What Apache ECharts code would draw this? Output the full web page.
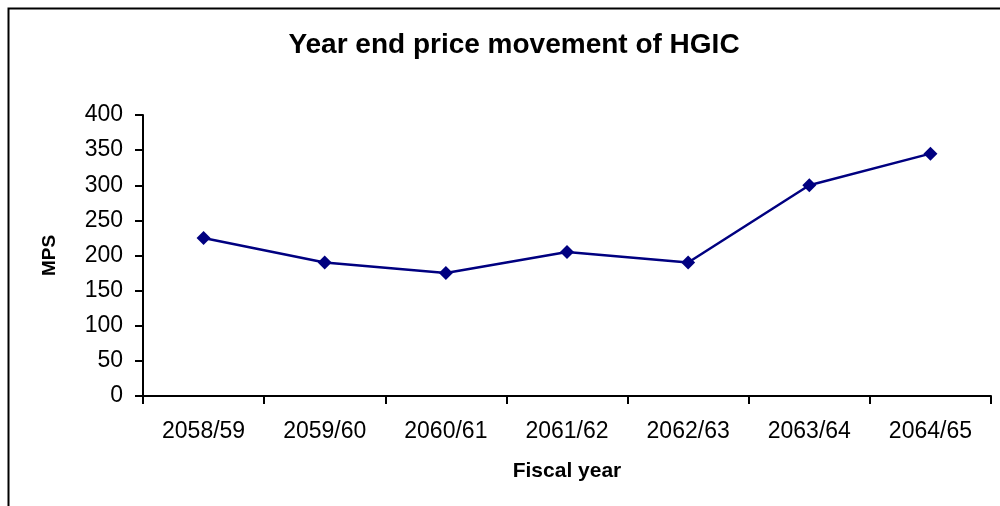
<!DOCTYPE html>
<html>
<head>
<meta charset="utf-8">
<script src="https://cdn.jsdelivr.net/npm/echarts@6/dist/echarts.min.js"></script>
<style>html,body{margin:0;padding:0;background:#fff}#c{width:1000px;height:506px}</style>
</head>
<body>
<div id="c"></div>
<script>
var categories = ['2058/59','2059/60','2060/61','2061/62','2062/63','2063/64','2064/65'];
var mpsValues = [225, 190, 175, 205, 190, 300, 345];
var titleText = 'Year end price movement of HGIC';
var xName = 'Fiscal year';
var yName = 'MPS';

var chart = echarts.init(document.getElementById('c'), null, {renderer: 'canvas'});
var font = '"Liberation Sans", Arial, sans-serif';
chart.setOption({
  animation: false,
  backgroundColor: '#fff',
  title: {
    text: titleText, left: 509, top: 26, textAlign: 'center',
    textStyle: {fontFamily: font, fontSize: 28, fontWeight: 'bold', color: '#000'}
  },
  graphic: [{
    type: 'rect', silent: true, z: 100,
    shape: {x: 8.5, y: 8.5, width: 1100, height: 700},
    style: {fill: 'none', stroke: '#000', lineWidth: 2}
  }],
  grid: {left: 143, right: 9, top: 115, bottom: 110, containLabel: false},
  xAxis: {
    type: 'category', data: categories, boundaryGap: true,
    name: xName, nameLocation: 'middle', nameGap: 65,
    nameTextStyle: {fontFamily: font, fontSize: 21, fontWeight: 'bold', color: '#000'},
    axisLine: {lineStyle: {color: '#000', width: 2}},
    axisTick: {show: true, length: 8, alignWithLabel: false, lineStyle: {color: '#000', width: 2}},
    axisLabel: {fontFamily: font, fontSize: 23, color: '#000', margin: 24, interval: 0},
    splitLine: {show: false}
  },
  yAxis: {
    type: 'value', min: 0, max: 400, interval: 50,
    name: yName, nameLocation: 'middle', nameGap: 84, nameRotate: 90,
    nameTextStyle: {fontFamily: font, fontSize: 19, fontWeight: 'bold', color: '#000'},
    axisLine: {show: true, lineStyle: {color: '#000', width: 2}},
    axisTick: {show: true, length: 8, lineStyle: {color: '#000', width: 2}},
    axisLabel: {fontFamily: font, fontSize: 23, color: '#000', margin: 20, padding: [5, 0, 0, 0]},
    splitLine: {show: false}
  },
  series: [{
    type: 'line', data: mpsValues,
    symbol: 'diamond', symbolSize: 14,
    lineStyle: {color: '#000080', width: 2.5},
    itemStyle: {color: '#000080'}
  }]
});
</script>
</body>
</html>
